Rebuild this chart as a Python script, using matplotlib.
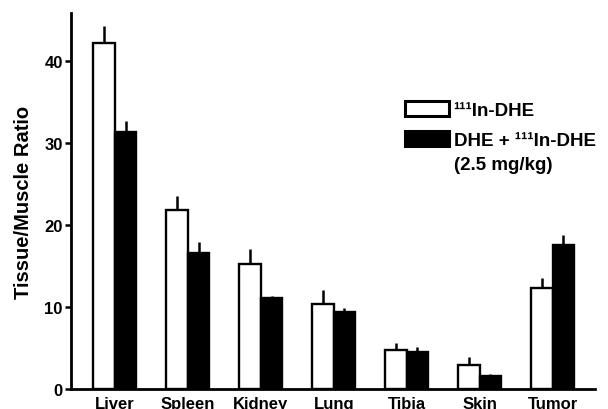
import matplotlib
matplotlib.use("Agg")
import matplotlib.pyplot as plt
import numpy as np
from matplotlib.patches import Patch

plt.rcParams['font.family'] = ['Liberation Sans', 'DejaVu Sans']

categories = ["Liver", "Spleen", "Kidney", "Lung", "Tibia", "Skin", "Tumor"]
in_dhe = [42.2, 21.8, 15.2, 10.4, 4.8, 2.9, 12.3]
in_dhe_err = [2.0, 1.7, 1.9, 1.7, 0.8, 1.0, 1.2]
dhe_plus = [31.3, 16.6, 11.1, 9.4, 4.5, 1.6, 17.5]
dhe_plus_err = [1.3, 1.3, 0.2, 0.5, 0.6, 0.2, 1.2]
yticks = [0, 10, 20, 30, 40]

fig = plt.figure(figsize=(6.08, 4.10), dpi=100)
ax = fig.add_axes([0.1168, 0.0488, 0.9786 - 0.1168, 0.9659 - 0.0488])

x = np.arange(len(categories))
w = 0.295
ax.bar(x - w / 2, in_dhe, w, color='white', edgecolor='black', linewidth=1.7,
       yerr=[np.zeros(len(x)), in_dhe_err], error_kw=dict(ecolor='black', elinewidth=1.8, capsize=0),
       zorder=2)
ax.bar(x + w / 2, dhe_plus, w, color='black', edgecolor='black', linewidth=1.7,
       yerr=[np.zeros(len(x)), dhe_plus_err], error_kw=dict(ecolor='black', elinewidth=1.8, capsize=0),
       zorder=2)

ax.set_xlim(-0.6, 6.58)
ax.set_ylim(0, 45.8)
ax.set_yticks(yticks)
ax.set_yticklabels([str(t) for t in yticks], fontsize=12, fontweight='bold')
ax.set_xticks(x)
ax.set_xticklabels(categories, fontsize=12, fontweight='bold')
ax.tick_params(axis='x', length=0, pad=5)
ax.tick_params(axis='y', direction='out', length=4, width=1.8, pad=2)
for s in ['top', 'right']:
    ax.spines[s].set_visible(False)
for s in ['left', 'bottom']:
    ax.spines[s].set_linewidth(2.0)
ax.set_ylabel('Tissue/Muscle Ratio', fontsize=14.5, fontweight='bold', labelpad=8)

handles = [Patch(facecolor='white', edgecolor='black', linewidth=2.2, label='¹¹¹In-DHE'),
           Patch(facecolor='black', edgecolor='black', linewidth=2.2, label='DHE + ¹¹¹In-DHE')]
leg = fig.legend(handles=handles, loc='upper left', bbox_to_anchor=(405 / 608, 1 - 102 / 410),
                 frameon=False, fontsize=13.5, handlelength=2.35, handleheight=0.88,
                 handletextpad=0.25, labelspacing=0.62, borderaxespad=0, borderpad=0)
for t in leg.get_texts():
    t.set_fontweight('bold')
fig.text(454 / 608, 1 - 166 / 410, '(2.5 mg/kg)', fontsize=13.5, fontweight='bold',
         ha='left', va='center')

fig.savefig('out.png', dpi=100)
